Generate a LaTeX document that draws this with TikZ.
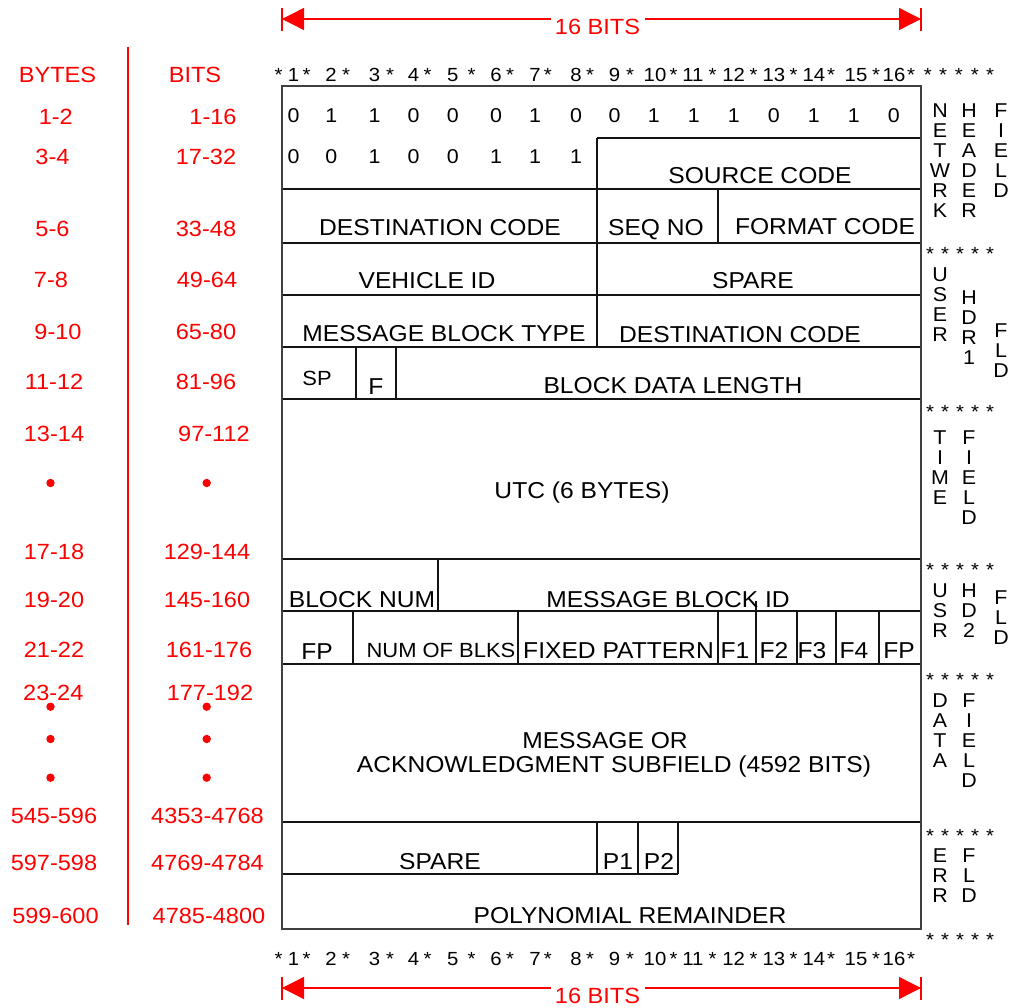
\documentclass[tikz,border=0pt]{standalone}
\usepackage{fontspec}
\setmainfont{Liberation Sans}[FakeStretch=1.07]
\usetikzlibrary{arrows.meta}
\definecolor{rd}{RGB}{255,0,0}
\definecolor{ln}{RGB}{20,20,20}
\newcommand\vword[4]{%
  \foreach \ch [count=\k from 0] in {#4} {\node[vlet] (#3\k) at ({#1},{#2+20*\k}) {\ch};}}
\begin{document}
\begin{tikzpicture}[x=1pt,y=-1pt,
  cell/.style={inner sep=0pt, anchor=base, font=\fontsize{23}{27}\selectfont},
  cellsm/.style={cell, font=\fontsize{20.5}{24}\selectfont},
  bitv/.style={inner sep=0pt, anchor=base, font=\fontsize{20}{24}\selectfont},
  hdr/.style={inner sep=0pt, anchor=base, font=\fontsize{19}{23}\selectfont},
  vlet/.style={inner sep=0pt, anchor=center, font=\fontsize{20}{22}\selectfont},
  redlbl/.style={inner sep=0pt, anchor=base, text=rd, font=\fontsize{22}{26}\selectfont},
  grid/.style={draw=ln, line width=1.2pt},
  outer/.style={draw=black!75, line width=1.8pt},
  dim/.style={draw=rd, line width=1.4pt},
  dimtip/.style={dim, -{Triangle[length=22pt,width=22pt]}},
]
\useasboundingbox (0,0) rectangle (1013,1008);

% ---------- dimension arrows ----------
\coordinate (tl) at (282,19);
\coordinate (tr) at (921,19);
\coordinate (gl) at (551,19);
\coordinate (gr) at (645,19);
\draw[dim] (282,8) -- (282,31);
\draw[dim] (921,8) -- (921,31);
\node[redlbl] (topbits) at (597.5,35) {16 BITS};
\draw[dimtip] (gl) -- (tl);
\draw[dimtip] (gr) -- (tr);

\coordinate (bl) at (282,988);
\coordinate (br) at (921,988);
\coordinate (bgl) at (551,988);
\coordinate (bgr) at (645,988);
\draw[dim] (282,977) -- (282,1000);
\draw[dim] (921,977) -- (921,1000);
\node[redlbl] (botbits) at (597.5,1003.5) {16 BITS};
\draw[dimtip] (bgl) -- (bl);
\draw[dimtip] (bgr) -- (br);

% ---------- left red columns ----------
\draw[draw=rd, line width=1.4pt] (128,47) -- (128,925);
\node[redlbl] (hbytes) at (57.5,83) {BYTES};
\node[redlbl] (hbits) at (195,83) {BITS};
\foreach \xx/\yy/\tt [count=\k] in {55.8/116.5/1-2, 52.5/157/3-4, 52.5/228.5/5-6, 51/280/7-8, 58/331.5/9-10, 54/382/11-12, 54/434/13-14, 54/552/17-18, 54/600/19-20, 54/650/21-22, 53.3/693/23-24, 54/815.7/545-596, 54/863/597-598, 55.5/915.5/599-600}
  {\node[redlbl] (by\k) at (\xx,\yy+7.9) {\tt};}
\foreach \xx/\yy/\tt [count=\k] in {213/116.5/1-16, 206/157/17-32, 206/228.5/33-48, 207/280/49-64, 206/331.5/65-80, 206/382/81-96, 214/434/97-112, 207/552/129-144, 207/600/145-160, 209/650/161-176, 210/693/177-192, 207.5/815.7/4353-4768, 207.5/863/4769-4784, 209/915.5/4785-4800}
  {\node[redlbl] (bi\k) at (\xx,\yy+7.9) {\tt};}
\foreach \yy in {483,706.7,739,777.7} {
  \fill[rd] (50.5,\yy) circle[radius=4.2];
  \fill[rd] (206.7,\yy) circle[radius=4.2];
}

% ---------- bit header rows ----------
\foreach \xx/\nn in {293.5/1,331/2,374.5/3,413.6/4,452.7/5,496/6,535/7,576/8,614.6/9,655/10,692.8/11,733.7/12,773.8/13,813.8/14,856/15,894/16}
  {\node[hdr] (tn\nn) at (\xx,82) {\nn};
   \node[hdr] (bn\nn) at (\xx,965) {\nn};}
\foreach \xx [count=\k] in {278.5,306.7,346,390,427.7,471.5,510,547.8,590,630,673.5,712.6,753.5,793.5,831,876,911}
  {\node[hdr] (ta\k) at (\xx,82) {*};
   \node[hdr] (ba\k) at (\xx,965) {*};}
\foreach \xx [count=\k] in {927.7,943,958.8,974.8,990}
  {\node[hdr] (tt\k) at (\xx,82) {*};}

% ---------- table lines ----------
\foreach \yy in {189,243,295,347,399,559,611,664,822}
  {\draw[grid] (282,\yy) -- (921,\yy);}
\draw[grid] (597,138) -- (921,138);
\draw[grid] (282,874) -- (678,874);
\draw[grid] (597,138) -- (597,347);
\draw[grid] (718,189) -- (718,243);
\draw[grid] (356,347) -- (356,399);
\draw[grid] (396,347) -- (396,399);
\draw[grid] (438,559) -- (438,611);
\foreach \xx in {353,518,718,756,797,836,879}
  {\draw[grid] (\xx,611) -- (\xx,664);}
\draw[grid] (756,601) -- (756,611);
\foreach \xx in {597,638,678}
  {\draw[grid] (\xx,822) -- (\xx,874);}
\draw[outer] (282,86) rectangle (921,929);

% ---------- bit values ----------
\foreach \xx/\v [count=\k] in {293.5/0,331.2/1,374.5/1,413.6/0,452.7/0,496/0,535/1,576/0,614.6/0,653.7/1,693.7/1,733.7/1,773.8/0,813.8/1,853.8/1,893.8/0}
  {\node[bitv] (ra\k) at (\xx,123) {\v};}
\foreach \xx/\v [count=\k] in {293.5/0,331.2/0,374.5/1,413.6/0,452.7/0,496/1,535/1,576/1}
  {\node[bitv] (rb\k) at (\xx,164) {\v};}

% ---------- field labels ----------
\node[cell] (src) at (760,184) {SOURCE CODE};
\node[cell] (dst1) at (440,236) {DESTINATION CODE};
\node[cell] (seq) at (656,236) {SEQ NO};
\node[cell] (fmt) at (825,235) {FORMAT CODE};
\node[cell] (veh) at (427,289) {VEHICLE ID};
\node[cell] (spare1) at (753,289) {SPARE};
\node[cell] (mbt) at (444,342) {MESSAGE BLOCK TYPE};
\node[cell] (dst2) at (740,343) {DESTINATION CODE};
\node[cell, font=\fontsize{20.5}{24}\selectfont] (sp) at (317,386) {SP};
\node[cell] (fbit) at (376,395) {F};
\node[cell] (bdl) at (673,394) {BLOCK DATA LENGTH};
\node[cell] (utc) at (582,498) {UTC (6 BYTES)};
\node[cell] (bnum) at (362,607) {BLOCK NUM};
\node[cell] (mbid) at (668,607) {MESSAGE BLOCK ID};
\node[cell] (fpa) at (317,659) {FP};
\node[cellsm] (nob) at (441,657) {NUM OF BLKS};
\node[cell] (fxp) at (618.5,658) {FIXED PATTERN};
\node[cell] (fa) at (735,658) {F1};
\node[cell] (fb) at (774,658) {F2};
\node[cell] (fc) at (812,658) {F3};
\node[cell] (fd) at (854,658) {F4};
\node[cell] (fpb) at (899,658) {FP};
\node[cell] (msga) at (605,748) {MESSAGE OR};
\node[cell] (msgb) at (614,772) {ACKNOWLEDGMENT SUBFIELD (4592 BITS)};
\node[cell] (spare2) at (440,869) {SPARE};
\node[cell] (pa) at (618,869) {P1};
\node[cell] (pb) at (659,869) {P2};
\node[cell] (poly) at (630,923) {POLYNOMIAL REMAINDER};

% ---------- right-hand vertical labels ----------
\foreach \yy [count=\r] in {261,419,576,686,842,946}
  {\foreach \xx [count=\k] in {930,945,960,975,990}
     {\node[hdr] (as\r x\k) at (\xx,\yy) {*};}}
\vword{940}{111}{netw}{N,E,T,W,R,K}
\vword{969}{111}{hdrw}{H,E,A,D,E,R}
\vword{1001}{111}{fldw}{F,I,E,L,D}
\vword{940}{275}{usrw}{U,S,E,R}
\vword{969}{298}{hdra}{H,D,R,1}
\vword{1001}{331}{flda}{F,L,D}
\vword{940}{438}{timw}{T,I,M,E}
\vword{969}{438}{fldt}{F,I,E,L,D}
\vword{940}{591}{usrb}{U,S,R}
\vword{969}{591}{hdrb}{H,D,2}
\vword{1001}{598}{fldb}{F,L,D}
\vword{940}{701}{datw}{D,A,T,A}
\vword{969}{701}{fldd}{F,I,E,L,D}
\vword{940}{856}{errw}{E,R,R}
\vword{969}{856}{flde}{F,L,D}
\end{tikzpicture}
\end{document}
